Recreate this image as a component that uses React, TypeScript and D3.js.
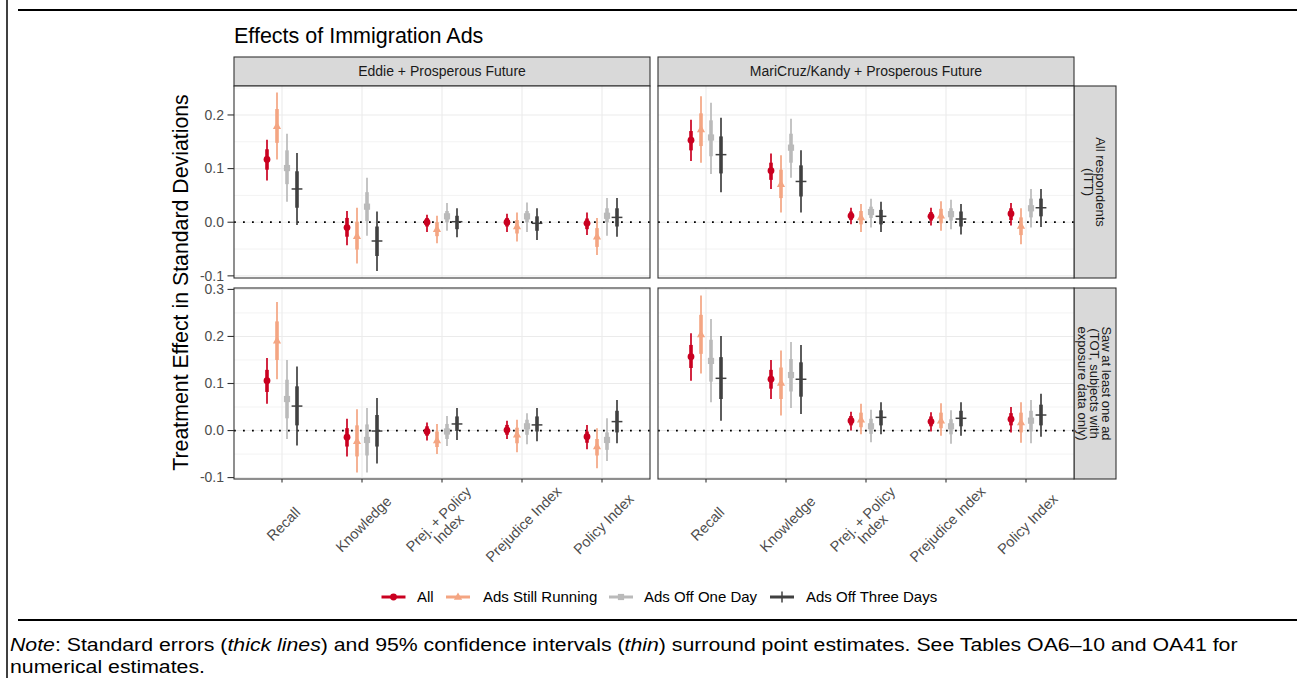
import React from "react";
import * as d3 from "d3";

// ---------- data ----------
const categories = ["Recall", "Knowledge", "Prej. + Policy\nIndex", "Prejudice Index", "Policy Index"];
const seriesNames = ["All", "Ads Still Running", "Ads Off One Day", "Ads Off Three Days"];
const seriesColors = ["#CA0020", "#F4A582", "#BABABA", "#404040"];
const seriesShapes = ["circle", "triangle", "square", "plus"];
const columnLabels = ["Eddie + Prosperous Future", "MariCruz/Kandy + Prosperous Future"];
const rowLabels = ["All respondents\n(ITT)", "Saw at least one ad\n(TOT, subjects with\nexposure data only)"];
const yTicksTop = [-0.1, 0, 0.1, 0.2];
const yTicksBottom = [-0.1, 0, 0.1, 0.2, 0.3];
const yMinorTop = [-0.05, 0.05, 0.15, 0.25];
const yMinorBottom = [-0.05, 0.05, 0.15, 0.25];
const yDomainTop = [-0.104, 0.254];
const yDomainBottom = [-0.103, 0.303];

// Row 1 (ITT), Eddie — rows: All, Running, One Day, Three Days; columns: categories
const estIttEddie = [
  [0.117, -0.010, 0.000, 0.000, -0.002],
  [0.179, -0.026, -0.013, -0.008, -0.027],
  [0.101, 0.029, 0.011, 0.011, 0.012],
  [0.062, -0.035, 0.001, -0.002, 0.009],
];
const ciLoIttEddie = [
  [0.078, -0.043, -0.018, -0.018, -0.024],
  [0.117, -0.077, -0.039, -0.036, -0.061],
  [0.038, -0.025, -0.016, -0.018, -0.025],
  [-0.005, -0.091, -0.028, -0.033, -0.027],
];
const ciHiIttEddie = [
  [0.154, 0.021, 0.014, 0.016, 0.018],
  [0.242, 0.027, 0.012, 0.018, 0.008],
  [0.165, 0.083, 0.036, 0.037, 0.045],
  [0.129, 0.020, 0.026, 0.026, 0.045],
];
const seLoIttEddie = [
  [0.098, -0.027, -0.008, -0.008, -0.013],
  [0.148, -0.051, -0.026, -0.021, -0.046],
  [0.071, 0.002, 0.000, 0.000, 0.000],
  [0.027, -0.063, -0.013, -0.016, -0.008],
];
const seHiIttEddie = [
  [0.136, 0.008, 0.008, 0.008, 0.007],
  [0.211, 0.001, 0.000, 0.004, -0.011],
  [0.134, 0.056, 0.021, 0.021, 0.026],
  [0.095, -0.008, 0.012, 0.011, 0.026],
];

// Row 1 (ITT), MariCruz/Kandy
const estIttMari = [
  [0.153, 0.096, 0.012, 0.011, 0.016],
  [0.173, 0.071, 0.009, 0.012, -0.007],
  [0.158, 0.139, 0.019, 0.015, 0.026],
  [0.126, 0.076, 0.011, 0.006, 0.027],
];
const ciLoIttMari = [
  [0.114, 0.062, -0.004, -0.006, -0.006],
  [0.111, 0.018, -0.018, -0.016, -0.041],
  [0.090, 0.083, -0.010, -0.013, -0.010],
  [0.056, 0.018, -0.018, -0.023, -0.009],
];
const ciHiIttMari = [
  [0.191, 0.128, 0.027, 0.027, 0.036],
  [0.235, 0.125, 0.034, 0.039, 0.026],
  [0.223, 0.193, 0.044, 0.042, 0.062],
  [0.195, 0.134, 0.038, 0.034, 0.062],
];
const seLoIttMari = [
  [0.134, 0.079, 0.004, 0.003, 0.004],
  [0.142, 0.045, -0.004, -0.002, -0.024],
  [0.123, 0.111, 0.008, 0.003, 0.009],
  [0.091, 0.048, -0.004, -0.008, 0.011],
];
const seHiIttMari = [
  [0.170, 0.111, 0.020, 0.019, 0.026],
  [0.203, 0.098, 0.021, 0.025, 0.009],
  [0.190, 0.165, 0.029, 0.026, 0.044],
  [0.160, 0.106, 0.023, 0.020, 0.044],
];

// Row 2 (TOT), Eddie
const estTotEddie = [
  [0.106, -0.014, -0.002, 0.001, -0.013],
  [0.191, -0.023, -0.021, -0.009, -0.034],
  [0.067, -0.020, -0.002, 0.009, -0.020],
  [0.052, -0.001, 0.014, 0.012, 0.019],
];
const ciLoTotEddie = [
  [0.057, -0.055, -0.021, -0.018, -0.040],
  [0.109, -0.089, -0.050, -0.046, -0.080],
  [-0.018, -0.089, -0.033, -0.029, -0.065],
  [-0.032, -0.070, -0.020, -0.023, -0.027],
];
const ciHiTotEddie = [
  [0.154, 0.025, 0.017, 0.021, 0.012],
  [0.273, 0.045, 0.014, 0.023, 0.005],
  [0.150, 0.048, 0.031, 0.037, 0.026],
  [0.136, 0.069, 0.048, 0.048, 0.065],
];
const seLoTotEddie = [
  [0.082, -0.034, -0.011, -0.009, -0.026],
  [0.150, -0.055, -0.035, -0.027, -0.053],
  [0.026, -0.053, -0.018, -0.009, -0.041],
  [0.011, -0.034, -0.001, -0.002, -0.004],
];
const seHiTotEddie = [
  [0.129, 0.005, 0.009, 0.012, -0.002],
  [0.232, 0.011, -0.002, 0.006, -0.018],
  [0.108, 0.013, 0.014, 0.023, -0.004],
  [0.094, 0.033, 0.030, 0.030, 0.042],
];

// Row 2 (TOT), MariCruz/Kandy
const estTotMari = [
  [0.157, 0.109, 0.021, 0.019, 0.024],
  [0.204, 0.101, 0.023, 0.021, 0.017],
  [0.148, 0.118, 0.009, 0.009, 0.021],
  [0.111, 0.109, 0.028, 0.026, 0.033],
];
const ciLoTotMari = [
  [0.106, 0.067, 0.000, -0.002, -0.004],
  [0.121, 0.032, -0.008, -0.011, -0.026],
  [0.060, 0.048, -0.025, -0.028, -0.027],
  [0.021, 0.035, -0.008, -0.011, -0.013],
];
const ciHiTotMari = [
  [0.207, 0.150, 0.040, 0.039, 0.050],
  [0.287, 0.170, 0.057, 0.058, 0.060],
  [0.237, 0.188, 0.044, 0.043, 0.065],
  [0.201, 0.182, 0.060, 0.060, 0.078],
];
const seLoTotMari = [
  [0.133, 0.089, 0.011, 0.009, 0.011],
  [0.163, 0.067, 0.007, 0.005, -0.004],
  [0.104, 0.083, -0.007, -0.008, -0.002],
  [0.067, 0.072, 0.011, 0.009, 0.011],
];
const seHiTotMari = [
  [0.182, 0.129, 0.031, 0.030, 0.037],
  [0.246, 0.134, 0.038, 0.038, 0.038],
  [0.193, 0.152, 0.025, 0.024, 0.042],
  [0.156, 0.145, 0.043, 0.042, 0.055],
];

// ---------- layout ----------
const W = 1297;
const H = 678;
const FONT = "'Liberation Sans', Arial, Helvetica, sans-serif";
const colX = [234, 658];
const panelW = 416;
const rowY = [86, 288];
const rowH = [192, 191];
const stripTop = 57;
const stripRightW = 42;

const panelDefs = [
  { r: 0, c: 0, est: estIttEddie, ciLo: ciLoIttEddie, ciHi: ciHiIttEddie, seLo: seLoIttEddie, seHi: seHiIttEddie },
  { r: 0, c: 1, est: estIttMari, ciLo: ciLoIttMari, ciHi: ciHiIttMari, seLo: seLoIttMari, seHi: seHiIttMari },
  { r: 1, c: 0, est: estTotEddie, ciLo: ciLoTotEddie, ciHi: ciHiTotEddie, seLo: seLoTotEddie, seHi: seHiTotEddie },
  { r: 1, c: 1, est: estTotMari, ciLo: ciLoTotMari, ciHi: ciHiTotMari, seLo: seLoTotMari, seHi: seHiTotMari },
];

function Marker({ shape, x, y, color, s = 1 }: { shape: string; x: number; y: number; color: string; s?: number }) {
  if (shape === "circle") return <circle cx={x} cy={y} r={3.4 * s} fill={color} />;
  if (shape === "triangle") {
    const h = 7.2 * s;
    const w = 8.2 * s;
    return <path d={`M${x},${y - h * 0.62}L${x + w / 2},${y + h * 0.38}L${x - w / 2},${y + h * 0.38}Z`} fill={color} />;
  }
  if (shape === "square") {
    const a = 6.2 * s;
    return <rect x={x - a / 2} y={y - a / 2} width={a} height={a} fill={color} />;
  }
  const a = 5.4 * s;
  return (
    <g stroke={color} strokeWidth={1.5}>
      <line x1={x - a} x2={x + a} y1={y} y2={y} />
      <line x1={x} x2={x} y1={y - a} y2={y + a} />
    </g>
  );
}

function Panel({ def }: { def: any }) {
  const x0 = colX[def.c];
  const y0 = rowY[def.r];
  const h = rowH[def.r];
  const domain = def.r === 0 ? yDomainTop : yDomainBottom;
  const ticks = def.r === 0 ? yTicksTop : yTicksBottom;
  const minor = def.r === 0 ? yMinorTop : yMinorBottom;
  const y = d3.scaleLinear().domain(domain).range([y0 + h, y0]);
  const x = d3.scalePoint<string>().domain(categories).range([x0, x0 + panelW]).padding(0.6);
  const dodge = d3.scalePoint<string>().domain(seriesNames).range([-15, 15]);

  return (
    <g>
      <rect x={x0} y={y0} width={panelW} height={h} fill="#FFFFFF" />
      {minor.filter((v) => v > domain[0] && v < domain[1]).map((v) => (
        <line key={"mi" + v} x1={x0} x2={x0 + panelW} y1={y(v)} y2={y(v)} stroke="#EBEBEB" strokeWidth={0.6} />
      ))}
      {ticks.map((v) => (
        <line key={"ma" + v} x1={x0} x2={x0 + panelW} y1={y(v)} y2={y(v)} stroke="#EBEBEB" strokeWidth={1.1} />
      ))}
      {categories.map((cat) => (
        <line key={"v" + cat} x1={x(cat)} x2={x(cat)} y1={y0} y2={y0 + h} stroke="#EBEBEB" strokeWidth={1.1} />
      ))}
      <line x1={x0} x2={x0 + panelW} y1={y(0)} y2={y(0)} stroke="#000" strokeWidth={1.7} strokeDasharray="1.8 7.2" />
      {seriesNames.map((s, si) =>
        categories.map((cat, ci) => {
          const cx = (x(cat) as number) + (dodge(s) as number);
          return (
            <line key={`ci${si}-${ci}`} x1={cx} x2={cx} y1={y(def.ciLo[si][ci])} y2={y(def.ciHi[si][ci])}
              stroke={seriesColors[si]} strokeWidth={1.7} />
          );
        })
      )}
      {seriesNames.map((s, si) =>
        categories.map((cat, ci) => {
          const cx = (x(cat) as number) + (dodge(s) as number);
          return (
            <line key={`se${si}-${ci}`} x1={cx} x2={cx} y1={y(def.seLo[si][ci])} y2={y(def.seHi[si][ci])}
              stroke={seriesColors[si]} strokeWidth={3.6} />
          );
        })
      )}
      {seriesNames.map((s, si) =>
        categories.map((cat, ci) => {
          const cx = (x(cat) as number) + (dodge(s) as number);
          return <Marker key={`pt${si}-${ci}`} shape={seriesShapes[si]} x={cx} y={y(def.est[si][ci])} color={seriesColors[si]} />;
        })
      )}
      <rect x={x0} y={y0} width={panelW} height={h} fill="none" stroke="#333333" strokeWidth={1.1} />
      {def.c === 0 &&
        ticks.map((v) => (
          <g key={"t" + v}>
            <line x1={x0 - 6.5} x2={x0} y1={y(v)} y2={y(v)} stroke="#333333" strokeWidth={1.1} />
            <text x={x0 - 10} y={y(v)} dy="0.35em" textAnchor="end" fontSize={14} fill="#4D4D4D" fontFamily={FONT}>
              {d3.format(".1f")(v).replace("−", "-")}
            </text>
          </g>
        ))}
      {def.r === 1 &&
        categories.map((cat) => {
          const tx = x(cat) as number;
          const lines = cat.split("\n");
          const lh = 14;
          return (
            <g key={"xt" + cat}>
              <line x1={tx} x2={tx} y1={y0 + h} y2={y0 + h + 3.5} stroke="#333333" strokeWidth={1.1} />
              <text transform={`translate(${tx + 1.5},${524}) rotate(-45)`} textAnchor="middle" fontSize={14.5}
                fill="#4D4D4D" fontFamily={FONT}>
                {lines.map((ln, i) => (
                  <tspan key={i} x={0} y={(i - (lines.length - 1) / 2) * lh + 0.35 * 14.5}>{ln}</tspan>
                ))}
              </text>
            </g>
          );
        })}
    </g>
  );
}

export default function App() {
  const legendItems = [
    { key: 393.5, text: 417 },
    { key: 458, text: 483 },
    { key: 621, text: 644 },
    { key: 782, text: 806 },
  ];
  const legendY = 597;
  const noteFs = 18.5;
  const noteSx = 1.15;
  return (
    <svg width={W} height={H} style={{ position: "absolute", left: 0, top: 0, background: "#fff" }}
      xmlns="http://www.w3.org/2000/svg">
      <rect x={0} y={0} width={W} height={H} fill="#FFFFFF" />
      {/* frame rules */}
      <line x1={7} x2={7} y1={0} y2={H} stroke="#000" strokeWidth={1.5} />
      <line x1={18} x2={W} y1={10} y2={10} stroke="#000" strokeWidth={2} />
      <line x1={18} x2={W} y1={620} y2={620} stroke="#000" strokeWidth={2} />

      {/* title */}
      <text x={234} y={43} fontSize={21.5} fontFamily={FONT} fill="#000">Effects of Immigration Ads</text>

      {/* column strips */}
      {columnLabels.map((lab, c) => (
        <g key={lab}>
          <rect x={colX[c]} y={stripTop} width={panelW} height={rowY[0] - stripTop} fill="#D9D9D9" stroke="#333333" strokeWidth={1.1} />
          <text x={colX[c] + panelW / 2} y={(stripTop + rowY[0]) / 2} dy="0.35em" textAnchor="middle" fontSize={14}
            fill="#1A1A1A" fontFamily={FONT}>{lab}</text>
        </g>
      ))}

      {/* row strips */}
      {rowLabels.map((lab, r) => {
        const sx = colX[1] + panelW;
        const lines = lab.split("\n");
        const lh = 12;
        const fs = 13;
        return (
          <g key={lab}>
            <rect x={sx} y={rowY[r]} width={stripRightW} height={rowH[r]} fill="#D9D9D9" stroke="#333333" strokeWidth={1.1} />
            <text transform={`translate(${sx + stripRightW / 2},${rowY[r] + rowH[r] / 2}) rotate(90)`} textAnchor="middle"
              fontSize={fs} fill="#1A1A1A" fontFamily={FONT}>
              {lines.map((ln, i) => (
                <tspan key={i} x={0} y={(i - (lines.length - 1) / 2) * lh + 0.35 * fs}>{ln}</tspan>
              ))}
            </text>
          </g>
        );
      })}

      {panelDefs.map((def, i) => (
        <Panel key={i} def={def} />
      ))}

      {/* y axis title */}
      <text transform={`translate(188,${(rowY[0] + rowY[1] + rowH[1]) / 2}) rotate(-90)`} textAnchor="middle" fontSize={21.3}
        fontFamily={FONT} fill="#000">Treatment Effect in Standard Deviations</text>

      {/* legend */}
      {seriesNames.map((s, i) => (
        <g key={s}>
          <line x1={legendItems[i].key - 12} x2={legendItems[i].key + 12} y1={legendY} y2={legendY} stroke={seriesColors[i]} strokeWidth={3} />
          <Marker shape={seriesShapes[i]} x={legendItems[i].key} y={legendY} color={seriesColors[i]} />
          <text x={legendItems[i].text} y={legendY} dy="0.35em" fontSize={15} fontFamily={FONT} fill="#000">{s}</text>
        </g>
      ))}

      {/* note */}
      <text transform={`translate(10,651) scale(${noteSx},1)`} fontSize={noteFs} fontFamily={FONT} fill="#000">
        <tspan fontStyle="italic">Note</tspan>
        <tspan>{": Standard errors ("}</tspan>
        <tspan fontStyle="italic">thick lines</tspan>
        <tspan>{") and 95% confidence intervals ("}</tspan>
        <tspan fontStyle="italic">thin</tspan>
        <tspan>{") surround point estimates. See Tables OA6–10 and OA41 for"}</tspan>
      </text>
      <text transform={`translate(10,673) scale(${noteSx},1)`} fontSize={noteFs} fontFamily={FONT} fill="#000">numerical estimates.</text>
    </svg>
  );
}
